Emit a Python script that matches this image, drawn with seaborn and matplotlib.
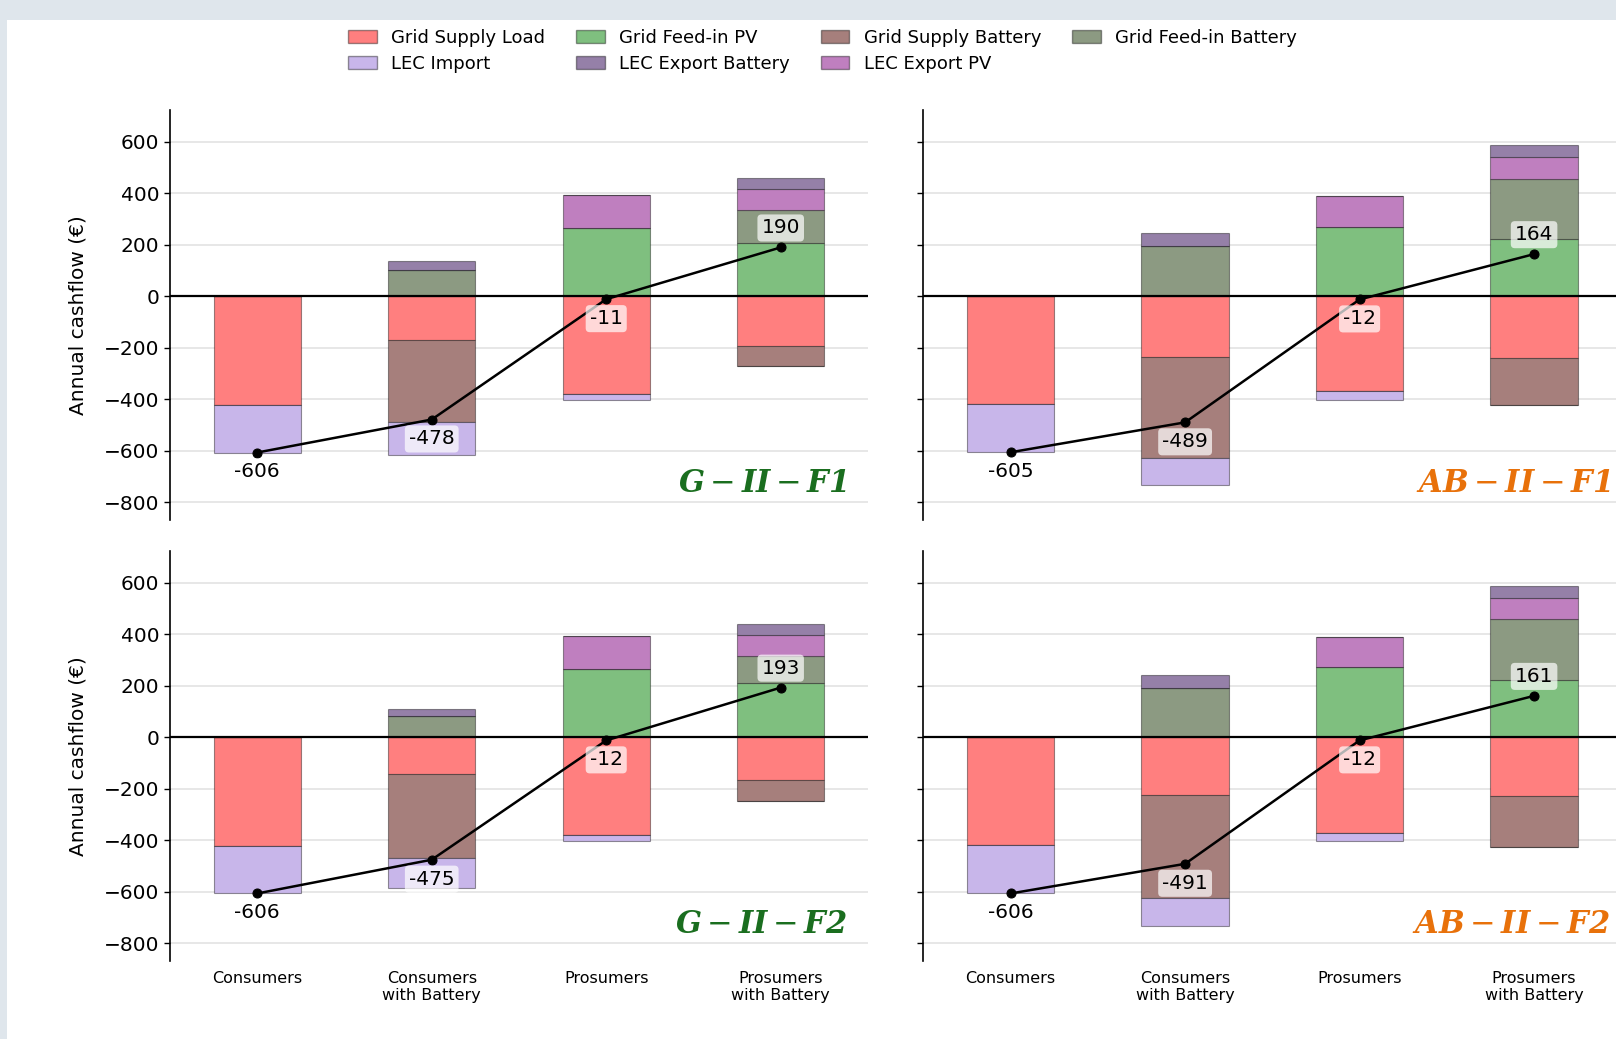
import numpy as np
import matplotlib
matplotlib.use("Agg")
import matplotlib.pyplot as plt
from matplotlib.patches import Rectangle, Patch
import seaborn as sns

sns.set_style("white")
plt.rcParams['font.family'] = ['DejaVu Sans']
plt.rcParams['text.color'] = 'black'
plt.rcParams['axes.labelcolor'] = 'black'
plt.rcParams['xtick.color'] = 'black'
plt.rcParams['ytick.color'] = 'black'

# categories and panels
categories = ["Consumers", "Consumers\nwith Battery", "Prosumers", "Prosumers\nwith Battery"]
panel_titles = [r"$\mathbfit{G} - \mathbfit{II} - \mathbfit{F1}$",
                r"$\mathbfit{AB} - \mathbfit{II} - \mathbfit{F1}$",
                r"$\mathbfit{G} - \mathbfit{II} - \mathbfit{F2}$",
                r"$\mathbfit{AB} - \mathbfit{II} - \mathbfit{F2}$"]
title_colors = ["#1a6e1f", "#e8710a", "#1a6e1f", "#e8710a"]

# values per panel (G-II-F1, AB-II-F1, G-II-F2, AB-II-F2), per category
grid_supply_load = [[-420, -168, -378, -192], [-417, -235, -368, -240],
                    [-422, -144, -379, -166], [-416, -225, -370, -228]]
grid_supply_battery = [[0, -320, 0, -79], [0, -393, 0, -183],
                       [0, -323, 0, -80], [0, -400, 0, -197]]
lec_import = [[-186, -126, -25, 0], [-188, -106, -34, 0],
              [-184, -118, -25, 0], [-190, -107, -32, 0]]
grid_feedin_pv = [[0, 0, 265, 208], [0, 0, 270, 224],
                  [0, 0, 265, 209], [0, 0, 273, 224]]
grid_feedin_battery = [[0, 104, 0, 126], [0, 195, 0, 233],
                       [0, 81, 0, 105], [0, 191, 0, 236]]
lec_export_pv = [[0, 0, 127, 81], [0, 0, 120, 84],
                 [0, 0, 127, 83], [0, 0, 117, 82]]
lec_export_battery = [[0, 32, 0, 46], [0, 50, 0, 46],
                      [0, 29, 0, 42], [0, 50, 0, 44]]

colors = {
    "Grid Supply Load": "#ff7f7f",
    "Grid Feed-in PV": "#7fbf7f",
    "Grid Supply Battery": "#a67f7c",
    "Grid Feed-in Battery": "#8c9a82",
    "LEC Import": "#c8b6ea",
    "LEC Export Battery": "#9580a8",
    "LEC Export PV": "#bf7fbf",
}
neg_series = [("Grid Supply Load", grid_supply_load),
              ("Grid Supply Battery", grid_supply_battery),
              ("LEC Import", lec_import)]
pos_series = [("Grid Feed-in PV", grid_feedin_pv),
              ("Grid Feed-in Battery", grid_feedin_battery),
              ("LEC Export PV", lec_export_pv),
              ("LEC Export Battery", lec_export_battery)]

fig = plt.figure(figsize=(16.16, 10.39), dpi=100, facecolor="#dfe6ec")
fig.patches.append(Rectangle((7 / 1616, 0), 1, (1039 - 20) / 1039, transform=fig.transFigure,
                             facecolor="white", edgecolor="none", zorder=-10))

lefts = [0.1052, 0.5714]
bottoms = [0.4995, 0.0751]
w, h = 0.4319, 0.3943
title_x = [0.97, 0.984]

x = np.arange(len(categories))
for p in range(4):
    row, col = divmod(p, 2)
    ax = fig.add_axes([lefts[col], bottoms[row], w, h])
    ax.set_facecolor("none")
    bottom_neg = np.zeros(4)
    for name, vals in neg_series:
        v = np.array(vals[p], dtype=float)
        ax.bar(x, v, 0.5, bottom=bottom_neg, color=colors[name],
               edgecolor=(0, 0, 0, 0.4), linewidth=0.8, zorder=2)
        bottom_neg += v
    bottom_pos = np.zeros(4)
    for name, vals in pos_series:
        v = np.array(vals[p], dtype=float)
        ax.bar(x, v, 0.5, bottom=bottom_pos, color=colors[name],
               edgecolor=(0, 0, 0, 0.4), linewidth=0.8, zorder=2)
        bottom_pos += v
    net = bottom_neg + bottom_pos

    ax.axhline(0, color="black", lw=1.6, zorder=3)
    sns.lineplot(x=x, y=net, marker="o", color="black", lw=1.8, markersize=6.5,
                 markeredgecolor="black", ax=ax, zorder=4)
    for xi, n in zip(x, net):
        off = 14 if n > 0 else -14
        ax.annotate(f"{int(round(n))}", (xi, n), xytext=(0, off), textcoords="offset points",
                    ha="center", va="center", fontsize=14.5, zorder=5,
                    bbox=dict(boxstyle="round,pad=0.2", fc="white", ec="none", alpha=0.7))

    ax.set_xlim(-0.5, 3.5)
    ax.set_ylim(-868, 722)
    ax.set_yticks(range(-800, 601, 200))
    ax.yaxis.grid(True, color="#e3e3e3", lw=1.2)
    ax.set_axisbelow(True)
    sns.despine(ax=ax, bottom=True)
    ax.spines["left"].set_linewidth(1.2)
    ax.spines["left"].set_color("black")
    ax.tick_params(axis="y", length=4, width=1, labelsize=14.5, left=True)
    ax.set_xticks(x)
    if row == 1:
        ax.set_xticklabels(categories, fontsize=11.5)
    else:
        ax.set_xticklabels([])
    ax.tick_params(axis="x", length=0, pad=7)
    if col == 0:
        ax.set_ylabel("Annual cashflow (€)", fontsize=14.5, labelpad=12)
    else:
        ax.tick_params(axis="y", labelleft=False)

    ax.text(-0.5 + 4 * title_x[col], -760, panel_titles[p], ha="right", va="baseline",
            fontsize=22, color=title_colors[p], math_fontfamily="dejavuserif", zorder=6)

order = ["Grid Supply Load", "LEC Import", "Grid Feed-in PV", "LEC Export Battery",
         "Grid Supply Battery", "LEC Export PV", "Grid Feed-in Battery"]
handles = [Patch(facecolor=colors[n], edgecolor=(0, 0, 0, 0.4), label=n) for n in order]
fig.legend(handles=handles, loc="upper center", bbox_to_anchor=(0.509, 0.988), ncol=4,
           frameon=False, fontsize=13, handlelength=1.6, columnspacing=1.7, handletextpad=0.8,
           labelspacing=0.45)

fig.savefig("out.png", dpi=100, facecolor=fig.get_facecolor())
